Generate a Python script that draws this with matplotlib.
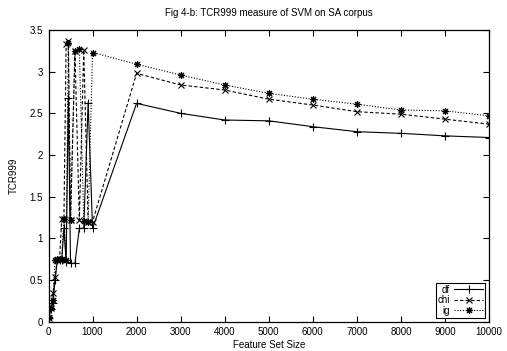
import matplotlib
matplotlib.use("Agg")
import matplotlib.pyplot as plt

plt.rcParams['font.family'] = ['Liberation Sans', 'DejaVu Sans']

sizes = [10, 50, 100, 150, 200, 250, 300, 350, 400, 450, 500, 600, 700, 800, 900, 1000,
         2000, 3000, 4000, 5000, 6000, 7000, 8000, 9000, 10000]
df_vals = [0.05, 0.15, 0.22, 0.50, 0.74, 0.74, 0.74, 1.12, 0.72, 2.68, 0.70, 0.70, 1.12, 1.12, 2.63, 1.12,
           2.62, 2.50, 2.42, 2.41, 2.34, 2.28, 2.26, 2.23, 2.21]
chi_vals = [0.04, 0.17, 0.34, 0.54, 0.74, 0.74, 1.23, 1.23, 3.33, 3.37, 1.22, 3.25, 1.22, 3.26, 1.20, 1.20,
            2.98, 2.84, 2.78, 2.67, 2.60, 2.52, 2.49, 2.43, 2.37]
ig_vals = [0.06, 0.16, 0.26, 0.74, 0.75, 0.75, 0.75, 1.23, 0.74, 3.35, 1.22, 3.25, 3.27, 1.21, 1.20, 3.23,
           3.09, 2.96, 2.84, 2.74, 2.67, 2.61, 2.54, 2.53, 2.47]

title = "Fig 4-b: TCR999 measure of SVM on SA corpus"
xticks = [0, 1000, 2000, 3000, 4000, 5000, 6000, 7000, 8000, 9000, 10000]
yticks = [0, 0.5, 1, 1.5, 2, 2.5, 3, 3.5]
ytick_labels = ["0", "0.5", "1", "1.5", "2", "2.5", "3", "3.5"]

fig = plt.figure(figsize=(5.07, 3.51), dpi=100)
ax = fig.add_axes([48.5/507, 1 - 321.7/351, (489 - 48.5)/507, (321.7 - 30)/351])

lw = 0.8
ax.plot(sizes, df_vals, color='black', linestyle='-', linewidth=lw, marker='+', markersize=5.5,
        markeredgewidth=0.8, label='df')
ax.plot(sizes, chi_vals, color='black', linestyle=(0, (3, 2)), linewidth=lw, marker='x', markersize=4.5,
        markeredgewidth=0.8, label='chi')
ax.plot(sizes, ig_vals, color='black', linestyle=(0, (1, 1.5)), linewidth=lw, marker=(8, 2, 0), markersize=5,
        markeredgewidth=0.8, label='ig')

ax.set_xlim(0, 10000)
ax.set_ylim(0, 3.5)
ax.set_xticks(xticks)
ax.set_xticklabels([str(t) for t in xticks])
ax.set_yticks(yticks)
ax.set_yticklabels(ytick_labels)
ax.tick_params(direction='in', top=True, right=True, length=4, width=0.8, labelsize=7, pad=4)
for s in ax.spines.values():
    s.set_linewidth(0.9)

ax.set_xlabel("Feature Set Size", fontsize=7, labelpad=2)
ax.set_ylabel("TCR999", fontsize=7, labelpad=8)
fig.text(0.5 * (48.5 + 489) / 507, 1 - 13/351, title, ha='center', va='center', fontsize=7)

leg = ax.legend(loc='lower right', fontsize=7, markerfirst=False, frameon=True, fancybox=False,
                edgecolor='black', framealpha=1, borderpad=0.2, labelspacing=0.05,
                handlelength=3.0, handletextpad=0.4, borderaxespad=0.4)
leg.get_frame().set_linewidth(0.8)
for t in leg.get_texts():
    t.set_ha('right')

fig.savefig("out.png", dpi=100)
